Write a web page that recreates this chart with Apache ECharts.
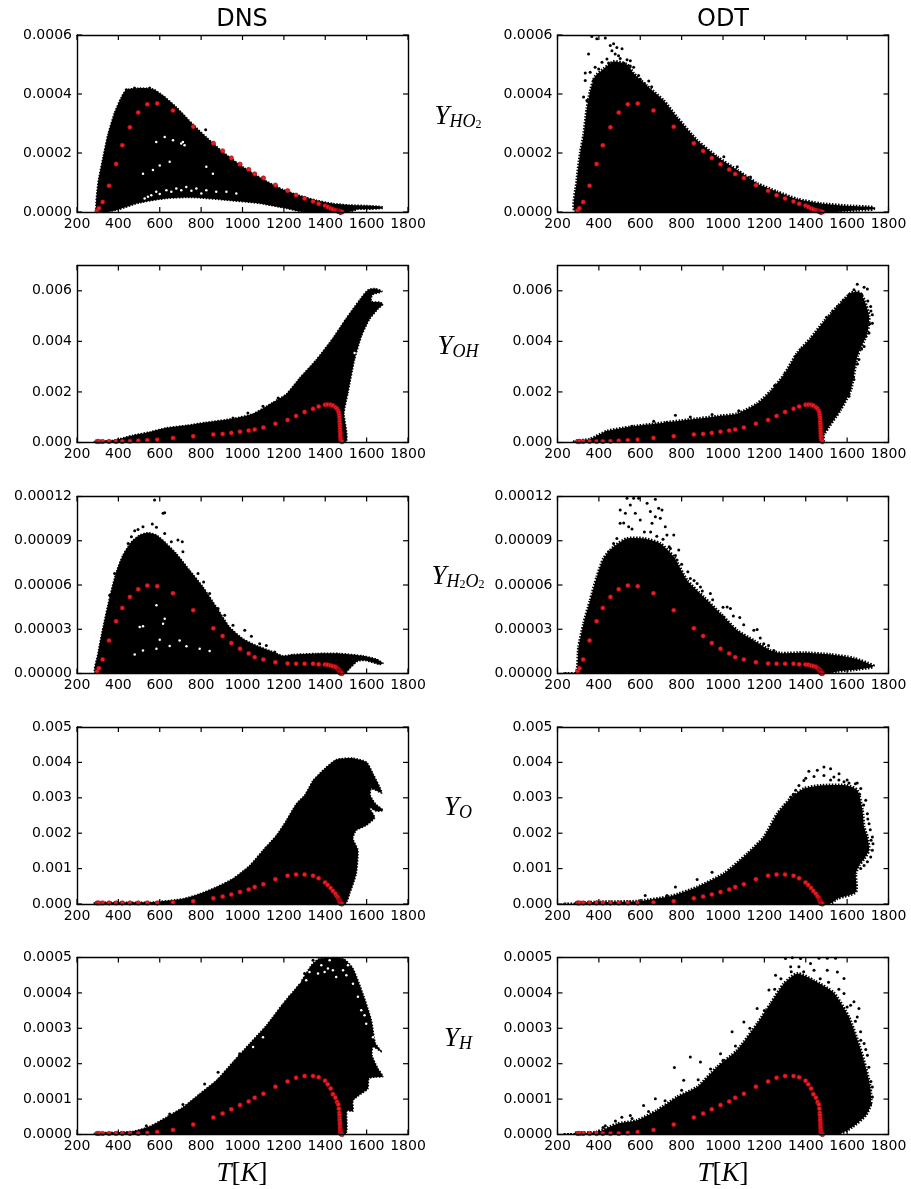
<!DOCTYPE html>
<html>
<head>
<meta charset="utf-8">
<style>
	html, body { margin: 0; padding: 0; background: #fff; }
	#chart { width: 911px; height: 1189px; }
</style>
<script src="https://cdn.jsdelivr.net/npm/echarts@6/dist/echarts.min.js"></script>
</head>
<body>
<div id="chart"></div>
<script>
// x ticks, same on every panel
var tempTicks = [200, 400, 600, 800, 1000, 1200, 1400, 1600, 1800];

// y ticks
var ticksHO2 = [0, 0.0002, 0.0004, 0.0006];
var ticksOH = [0, 0.002, 0.004, 0.006];
var ticksH2O2 = [0, 0.00003, 0.00006, 0.00009, 0.00012];
var ticksO = [0, 0.001, 0.002, 0.003, 0.004, 0.005];
var ticksH = [0, 0.0001, 0.0002, 0.0003, 0.0004, 0.0005];

// red laminar flame points
var redT = [297, 306, 324, 355, 389, 419, 456, 496, 540, 588, 664, 762, 859, 904, 946, 988, 1030, 1059, 1101, 1159, 1218, 1259, 1300, 1341, 1368, 1399, 1412, 1426, 1437, 1449, 1457, 1463, 1466, 1468, 1469, 1470, 1470, 1471, 1471, 1472, 1472, 1473, 1473, 1474, 1476, 1481];
var redHO2 = [0.045, 0.124, 0.338, 0.89, 1.63, 2.26, 2.87, 3.37, 3.65, 3.68, 3.44, 2.89, 2.33, 2.07, 1.83, 1.62, 1.44, 1.29, 1.15, 0.91, 0.72, 0.57, 0.46, 0.36, 0.28, 0.21, 0.17, 0.12, 0.09, 0.06, 0.04, 0.03, 0.025, 0.02, 0.018, 0.016, 0.014, 0.012, 0.01, 0.009, 0.008, 0.006, 0.005, 0.004, 0.002, 0];
var redOH = [0.04, 0.04, 0.04, 0.04, 0.04, 0.04, 0.05, 0.07, 0.09, 0.11, 0.18, 0.25, 0.32, 0.34, 0.38, 0.43, 0.47, 0.51, 0.59, 0.74, 0.89, 1.05, 1.21, 1.33, 1.42, 1.49, 1.5, 1.49, 1.46, 1.39, 1.33, 1.25, 1.17, 1.08, 0.99, 0.89, 0.8, 0.71, 0.62, 0.53, 0.43, 0.34, 0.25, 0.16, 0.09, 0.03];
var redH2O2 = [0.14, 0.36, 0.95, 2.24, 3.54, 4.44, 5.19, 5.71, 5.96, 5.92, 5.44, 4.29, 3.06, 2.54, 2.06, 1.68, 1.36, 1.11, 0.95, 0.77, 0.68, 0.66, 0.66, 0.66, 0.63, 0.61, 0.59, 0.54, 0.5, 0.45, 0.36, 0.29, 0.25, 0.22, 0.2, 0.18, 0.16, 0.14, 0.12, 0.1, 0.08, 0.06, 0.05, 0.04, 0.02, 0];
var redO = [0.03, 0.03, 0.03, 0.03, 0.03, 0.03, 0.03, 0.03, 0.03, 0.03, 0.04, 0.08, 0.16, 0.21, 0.27, 0.34, 0.41, 0.48, 0.56, 0.7, 0.8, 0.83, 0.83, 0.8, 0.73, 0.61, 0.54, 0.45, 0.37, 0.29, 0.22, 0.17, 0.13, 0.1, 0.09, 0.08, 0.07, 0.06, 0.05, 0.05, 0.04, 0.03, 0.03, 0.02, 0.01, 0];
var redH = [0.03, 0.03, 0.03, 0.03, 0.03, 0.03, 0.03, 0.03, 0.04, 0.07, 0.13, 0.28, 0.48, 0.59, 0.71, 0.83, 0.93, 1.04, 1.15, 1.35, 1.5, 1.6, 1.65, 1.65, 1.62, 1.52, 1.42, 1.3, 1.14, 1.04, 0.92, 0.85, 0.73, 0.61, 0.54, 0.46, 0.4, 0.33, 0.27, 0.21, 0.16, 0.11, 0.07, 0.04, 0.02, 0];

// solid black part of the clouds, outline as [T, Y in the panel's unit]
var dnsHO2 = [[293, 0], [301, 0.97], [326, 1.87], [350, 2.65], [382, 3.38], [414, 3.89], [438, 4.14], [503, 4.2], [567, 4.17], [616, 3.95], [680, 3.56], [761, 2.97], [825, 2.54], [906, 2.03], [1002, 1.53], [1099, 1.11], [1196, 0.76], [1277, 0.56], [1357, 0.4], [1437, 0.29], [1517, 0.24], [1599, 0.22], [1676, 0.18], [1678, 0.12], [1599, 0.09], [1558, 0.09], [1517, 0], [1292, 0], [1212, 0.12], [1083, 0.29], [922, 0.4], [761, 0.49], [632, 0.46], [503, 0.31], [400, 0.08], [342, 0]];
var odtHO2 = [[290, 0], [294, 1.08], [310, 2.0], [326, 2.6], [342, 3.5], [358, 4.1], [382, 4.6], [423, 4.85], [471, 5.1], [536, 5.0], [568, 4.7], [632, 4.28], [713, 3.78], [778, 3.21], [875, 2.43], [972, 1.87], [1069, 1.42], [1165, 0.97], [1262, 0.69], [1359, 0.44], [1472, 0.29], [1601, 0.21], [1727, 0.16], [1727, 0.09], [1650, 0.06], [1601, 0.03], [1553, 0]];
var dnsOH = [[285, 0], [285, 0.05], [374, 0.09], [471, 0.29], [551, 0.42], [632, 0.58], [729, 0.68], [825, 0.8], [954, 0.95], [1051, 1.14], [1147, 1.59], [1212, 1.92], [1276, 2.55], [1357, 3.28], [1437, 4.13], [1502, 4.92], [1566, 5.64], [1607, 6.04], [1639, 6.09], [1674, 5.99], [1671, 5.95], [1628, 5.84], [1623, 5.58], [1664, 5.55], [1679, 5.47], [1655, 5.28], [1615, 4.88], [1575, 4.2], [1542, 3.28], [1510, 1.96], [1491, 1.17], [1495, 0]];
var odtOH = [[281, 0], [281, 0.04], [358, 0.14], [439, 0.45], [552, 0.62], [681, 0.75], [843, 0.91], [972, 1.04], [1069, 1.14], [1165, 1.54], [1230, 2.03], [1295, 2.68], [1359, 3.54], [1424, 4.13], [1488, 4.79], [1553, 5.38], [1618, 5.91], [1658, 5.95], [1685, 5.6], [1706, 5.0], [1698, 4.34], [1650, 3.42], [1618, 2.08], [1569, 1.3], [1488, 0.32], [1480, 0]];
var dnsH2O2 = [[290, 0], [301, 1.34], [326, 3.15], [358, 5.19], [390, 6.89], [422, 8.03], [463, 8.93], [503, 9.39], [543, 9.55], [584, 9.39], [632, 8.82], [680, 8.14], [745, 7.0], [809, 5.87], [874, 4.51], [938, 3.15], [1002, 2.36], [1067, 1.9], [1131, 1.56], [1196, 1.2], [1244, 1.29], [1357, 1.36], [1470, 1.36], [1582, 1.2], [1647, 0.98], [1679, 0.7], [1663, 0.61], [1599, 0.86], [1558, 0.84], [1517, 0.32], [1494, 0]];
var odtH2O2 = [[235, 0], [290, 0], [302, 1.79], [326, 3.38], [358, 4.97], [390, 6.55], [423, 7.8], [471, 8.59], [536, 9.16], [616, 9.16], [697, 8.82], [762, 7.91], [826, 6.33], [907, 5.19], [988, 4.06], [1068, 2.93], [1149, 2.24], [1230, 1.56], [1278, 1.38], [1391, 1.41], [1520, 1.29], [1633, 1.04], [1727, 0.54], [1722, 0.43], [1633, 0.25], [1553, 0.14], [1504, 0]];
var dnsO = [[285, 0], [285, 0.05], [551, 0.05], [712, 0.15], [793, 0.29], [874, 0.48], [954, 0.72], [1035, 1.09], [1099, 1.52], [1164, 1.94], [1212, 2.36], [1260, 2.83], [1300, 3.07], [1341, 3.49], [1397, 3.82], [1454, 4.08], [1534, 4.12], [1599, 4.01], [1631, 3.68], [1674, 3.14], [1623, 3.26], [1618, 3.07], [1643, 2.83], [1679, 2.65], [1647, 2.62], [1611, 2.74], [1639, 2.44], [1598, 2.22], [1550, 2.08], [1534, 1.85], [1558, 1.52], [1550, 0.86], [1518, 0.29], [1494, 0]];
var odtO = [[235, 0], [281, 0], [281, 0.03], [423, 0.06], [584, 0.08], [746, 0.22], [875, 0.48], [1004, 0.86], [1117, 1.42], [1197, 1.89], [1262, 2.55], [1326, 2.98], [1391, 3.26], [1472, 3.35], [1601, 3.35], [1650, 3.21], [1674, 2.65], [1682, 2.18], [1698, 1.89], [1706, 1.52], [1682, 1.28], [1658, 1.09], [1642, 0.86], [1642, 0.34], [1553, 0.15], [1513, 0]];
var dnsH = [[285, 0], [285, 0.04], [471, 0.09], [551, 0.23], [632, 0.49], [712, 0.77], [793, 1.15], [874, 1.53], [954, 2.05], [1035, 2.57], [1115, 3.08], [1196, 3.7], [1276, 4.26], [1333, 4.78], [1373, 4.97], [1486, 4.97], [1534, 4.69], [1582, 3.98], [1623, 3.23], [1643, 2.57], [1674, 2.33], [1631, 2.47], [1626, 2.24], [1655, 1.86], [1679, 1.64], [1639, 1.62], [1611, 1.58], [1606, 1.29], [1574, 1.15], [1534, 0.96], [1534, 0.66], [1505, 0.66], [1494, 0]];
var odtH = [[235, 0], [281, 0], [281, 0.04], [390, 0.07], [487, 0.3], [584, 0.4], [681, 0.68], [778, 1.06], [875, 1.34], [972, 1.91], [1068, 2.38], [1165, 3.13], [1230, 3.7], [1294, 4.26], [1359, 4.55], [1440, 4.35], [1536, 4.0], [1610, 3.3], [1660, 2.5], [1690, 1.9], [1712, 1.34], [1715, 0.87], [1690, 0.54], [1625, 0.21], [1553, 0]];

// loose points outside the solid part
var looseDnsHO2 = [[822, 2.79], [390, 3.38], [438, 4.14], [478, 4.2], [551, 4.2]];
var looseOdtHO2 = [[366, 5.95], [390, 5.87], [431, 5.9], [350, 5.36], [334, 4.71], [358, 4.74], [382, 4.91], [399, 4.85], [415, 5.08], [439, 5.19], [455, 5.64], [471, 5.7], [487, 5.58], [512, 5.53], [463, 5.47], [479, 5.36], [495, 5.3], [536, 5.16], [552, 5.13], [568, 4.91], [592, 4.63], [641, 4.44], [334, 4.46], [326, 3.9], [342, 3.78], [358, 3.56], [374, 4.46], [410, 4.68], [439, 4.91], [495, 5.02], [1004, 1.87], [1069, 1.53], [1133, 1.19], [447, 5.05], [503, 5.2], [520, 5.05], [552, 4.95], [600, 4.5], [620, 4.35], [655, 4.25], [400, 4.6], [380, 4.4]];
var looseDnsOH = [[1172, 1.76], [1099, 1.43], [1026, 1.17], [954, 0.97]];
var looseOdtOH = [[1649, 6.26], [1682, 6.14], [1698, 6.07], [1633, 6.04], [1617, 5.84], [1553, 5.38], [1722, 5.05], [1722, 4.72], [1706, 4.33], [1682, 3.8], [1657, 3.28], [1633, 2.49], [1609, 1.83], [1674, 5.25], [1714, 5.38], [1488, 4.66], [1351, 3.41], [1375, 3.67], [770, 1.08], [1076, 1.26], [947, 1.11], [842, 1.01], [665, 0.84], [560, 0.64], [729, 0.8], [439, 0.41], [1407, 3.87], [1456, 4.33], [1585, 5.64], [1500, 4.95], [1530, 5.2], [1580, 5.6], [1610, 5.85], [1640, 5.9], [1670, 5.85], [1700, 5.6], [1715, 5.2], [1710, 4.7], [1690, 4.2], [1670, 3.7], [1650, 3.1], [1630, 2.6], [1600, 2.0], [1580, 1.6], [1300, 2.75], [1250, 2.25], [1440, 4.2], [1400, 3.75]];
var looseDnsH2O2 = [[575, 11.77], [616, 10.86], [624, 10.9], [564, 10.14], [584, 9.91], [519, 9.95], [495, 9.77], [479, 9.68], [463, 9.27], [447, 8.82], [624, 9.5], [688, 9.05], [709, 8.93], [656, 8.93], [712, 8.25], [785, 6.78], [812, 6.21], [841, 5.42], [882, 4.4], [914, 3.95], [954, 3.27], [1011, 2.93], [1043, 2.52], [1083, 2.02], [1115, 1.9], [1156, 1.45], [382, 6.78], [358, 5.3]];
var looseOdtH2O2 = [[536, 11.88], [568, 11.88], [592, 11.88], [673, 11.81], [633, 11.54], [689, 11.2], [649, 10.98], [705, 11.09], [552, 11.43], [503, 11.09], [528, 10.86], [576, 10.86], [600, 10.41], [503, 10.18], [544, 9.95], [673, 10.63], [697, 10.52], [729, 9.39], [762, 9.39], [786, 8.37], [746, 8.48], [778, 7.69], [842, 6.44], [875, 6.1], [891, 5.87], [939, 5.42], [1020, 4.51], [1036, 4.4], [1081, 3.79], [1004, 3.83], [1149, 2.93], [1165, 2.99], [1197, 2.02], [1246, 1.56], [471, 8.82], [447, 8.25], [487, 9.16], [657, 10.18], [721, 9.95], [520, 10.2], [560, 9.8], [620, 9.6], [650, 9.6], [680, 9.3], [710, 9.1], [740, 8.6], [770, 8.0], [800, 7.4], [830, 6.9], [860, 6.3], [900, 5.6], [950, 5.0], [1000, 4.5], [1050, 3.9], [1100, 3.3], [1180, 2.4], [1220, 1.9]];
var looseDnsO = [];
var looseOdtO = [[1722, 1.89], [1725, 1.7], [1722, 1.52], [1714, 1.33], [1698, 1.19], [1682, 1.09], [1666, 1.0], [1706, 2.27], [1698, 2.55], [1690, 2.93], [1666, 3.26], [1649, 3.42], [1609, 3.42], [1561, 3.68], [1520, 3.82], [1488, 3.87], [1456, 3.78], [1415, 3.75], [1367, 3.35], [1351, 3.21], [1327, 3.02], [1391, 3.49], [1488, 3.63], [1536, 3.59], [1585, 3.45], [770, 0.48], [875, 0.69], [947, 0.9], [729, 0.24], [624, 0.24], [1400, 3.55], [1440, 3.6], [1520, 3.5], [1560, 3.5], [1600, 3.5], [1640, 3.4], [1340, 3.1], [1300, 2.8], [1660, 3.1], [1680, 2.8], [1700, 2.4], [1712, 2.1], [1716, 1.8]];
var looseDnsH = [[817, 1.43], [712, 0.85], [882, 1.76], [535, 0.25], [648, 0.58], [1163, 3.37], [1228, 3.89], [1300, 4.55], [1341, 4.92], [986, 2.28]];
var looseOdtH = [[1302, 4.97], [1335, 4.99], [1375, 4.97], [1423, 4.83], [1464, 4.98], [1504, 4.98], [1544, 4.98], [1553, 4.59], [1585, 4.41], [1633, 3.75], [1657, 3.56], [1649, 3.32], [1682, 2.57], [1698, 2.24], [1722, 1.34], [1722, 1.06], [1714, 0.87], [1698, 0.68], [1665, 0.49], [1254, 4.5], [1222, 4.08], [1165, 3.56], [1101, 3.18], [1044, 2.9], [988, 2.28], [891, 2.05], [842, 2.19], [765, 1.89], [810, 1.53], [673, 1.01], [616, 0.82], [552, 0.54], [511, 0.49], [431, 0.25], [1682, 1.72], [1666, 2.66], [1617, 3.65], [1585, 3.98], [1504, 4.64], [1327, 4.74], [1367, 4.74], [1407, 4.41], [1440, 4.64], [1250, 4.1], [1280, 4.4], [1330, 4.6], [1390, 4.6], [1470, 4.4], [1510, 4.3], [1560, 4.1], [1600, 3.6], [1640, 3.2], [1665, 2.9], [1690, 2.4], [1705, 1.9], [1715, 1.5], [1200, 3.5], [1130, 3.0], [1060, 2.5], [1000, 2.1], [940, 1.85], [880, 1.55], [800, 1.25], [720, 0.95], [640, 0.65], [560, 0.45], [480, 0.38], [420, 0.2]];

// white gaps inside the solid part
var gapsDnsHO2 = [[624, 2.54], [704, 2.32], [720, 2.26], [712, 2.37], [664, 2.43], [583, 2.37], [600, 1.58], [648, 1.7], [567, 1.42], [825, 1.53], [857, 1.3], [519, 1.3], [543, 0.52], [583, 0.69], [632, 0.74], [680, 0.8], [728, 0.85], [777, 0.8], [825, 0.74], [873, 0.69], [922, 0.69], [970, 0.63], [600, 0.61], [656, 0.69], [704, 0.74], [753, 0.72], [801, 0.63], [559, 0.57], [527, 0.46]];
var gapsDnsOH = [[1542, 3.54], [1553, 3.28], [1538, 2.75]];
var gapsDnsH2O2 = [[479, 1.29], [519, 1.56], [584, 1.68], [648, 1.86], [729, 1.84], [793, 1.68], [841, 1.52], [600, 2.29], [696, 2.24], [503, 3.15], [616, 3.38], [519, 3.2], [624, 3.72], [584, 4.63]];
var gapsDnsH = [[1284, 4.5], [1324, 4.59], [1365, 4.55], [1397, 4.59], [1437, 4.64], [1486, 4.64], [1502, 4.5], [1453, 4.45], [1413, 4.69], [1381, 4.78], [1510, 4.78], [1421, 4.92], [1574, 3.51], [1590, 3.37], [1598, 3.13], [1534, 4.26], [1558, 3.89], [1631, 2.75], [1276, 4.31], [1308, 4.36], [1099, 2.75], [1051, 2.47]];

var panels = [
	{ top: 35, max: 0.0006, ticks: ticksHO2, digits: 4, unit: 1e-4, red: redHO2, dns: [dnsHO2, looseDnsHO2, gapsDnsHO2], odt: [odtHO2, looseOdtHO2, []] },
	{ top: 265.5, max: 0.007, ticks: ticksOH, digits: 3, unit: 1e-3, red: redOH, dns: [dnsOH, looseDnsOH, gapsDnsOH], odt: [odtOH, looseOdtOH, []] },
	{ top: 496.5, max: 0.00012, ticks: ticksH2O2, digits: 5, unit: 1e-5, red: redH2O2, dns: [dnsH2O2, looseDnsH2O2, gapsDnsH2O2], odt: [odtH2O2, looseOdtH2O2, []] },
	{ top: 727, max: 0.005, ticks: ticksO, digits: 3, unit: 1e-3, red: redO, dns: [dnsO, looseDnsO, []], odt: [odtO, looseOdtO, []] },
	{ top: 957.5, max: 0.0005, ticks: ticksH, digits: 4, unit: 1e-4, red: redH, dns: [dnsH, looseDnsH, gapsDnsH], odt: [odtH, looseOdtH, []] }
];
var columns = [
	{ left: 77, key: "dns", edge: 1.5 },
	{ left: 557.5, key: "odt", edge: 3 }
];

function scaled(list, unit) {
	return list.map(function (p) {
		return [p[0], p[1] * unit];
	});
}

function cloudSeries(points, index, edge) {
	return {
		type: "custom",
		xAxisIndex: index,
		yAxisIndex: index,
		silent: true,
		clip: true,
		z: 2,
		data: points,
		encode: { x: 0, y: 1 },
		renderItem: function (params, api) {
			// whole outline is one polygon, draw it once
			if (params.dataIndex !== 0) {
				return null;
			}
			return {
				type: "polygon",
				shape: {
					smooth: 0.2,
					points: points.map(function (p) {
						return api.coord(p);
					})
				},
				// broken stroke gives the outline a grainy look
				style: { fill: "#000", stroke: "#000", lineWidth: edge, lineDash: [1.5, 1.5] }
			};
		}
	};
}

function dotSeries(data, index, color, size, z, edgeColor) {
	return {
		type: "scatter",
		xAxisIndex: index,
		yAxisIndex: index,
		silent: true,
		symbolSize: size,
		itemStyle: { color: color, opacity: 1, borderColor: edgeColor || color, borderWidth: edgeColor ? 0.5 : 0 },
		z: z,
		data: data
	};
}

// one side's inward tick marks, drawn as thin rectangles sitting on the axis
function tickSide(data, index, size, offset) {
	return {
		type: "scatter",
		xAxisIndex: index,
		yAxisIndex: index,
		silent: true,
		clip: false,
		symbol: "rect",
		symbolSize: size,
		symbolOffset: offset,
		itemStyle: { color: "#000", opacity: 1 },
		z: 6,
		data: data
	};
}

var grids = [];
var xAxes = [];
var yAxes = [];
var series = [];

var tickFont = { fontFamily: "DejaVu Sans", fontSize: 14, color: "#000" };

panels.forEach(function (panel) {
	columns.forEach(function (col) {
		var index = grids.length;
		var cloud = panel[col.key];
		grids.push({
			left: col.left,
			top: panel.top,
			width: 331,
			height: 177
		});
		["bottom", "top"].forEach(function (pos) {
			xAxes.push({
				type: "value",
				gridIndex: index,
				position: pos,
				min: tempTicks[0],
				max: tempTicks[tempTicks.length - 1],
				interval: tempTicks[1] - tempTicks[0],
				z: 10,
				splitLine: { show: false },
				axisLine: { show: true, onZero: false, lineStyle: { color: "#000", width: 1.4 } },
				axisTick: { show: false },
				axisLabel: {
					show: pos === "bottom",
					margin: 5,
					showMinLabel: true,
					showMaxLabel: true,
					hideOverlap: false,
					fontFamily: tickFont.fontFamily,
					fontSize: tickFont.fontSize,
					color: tickFont.color,
					formatter: function (v) {
						return String(v);
					}
				}
			});
		});
		["left", "right"].forEach(function (pos) {
			yAxes.push({
				type: "value",
				gridIndex: index,
				position: pos,
				min: 0,
				max: panel.max,
				interval: panel.ticks[1],
				z: 10,
				splitLine: { show: false },
				axisLine: { show: true, onZero: false, lineStyle: { color: "#000", width: 1.4 } },
				axisTick: { show: false },
				axisLabel: {
					show: pos === "left",
					margin: 5,
					showMinLabel: true,
					showMaxLabel: true,
					hideOverlap: false,
					fontFamily: tickFont.fontFamily,
					fontSize: tickFont.fontSize,
					color: tickFont.color,
					formatter: function (v) {
						// the OH axis ends above its last tick
						if (v > panel.ticks[panel.ticks.length - 1] * 1.001) {
							return "";
						}
						return v.toFixed(panel.digits);
					}
				}
			});
		});
		// each grid has two x and two y axes, the data sits on the first pair
		var axisIndex = index * 2;
		series.push(cloudSeries(scaled(cloud[0], panel.unit), axisIndex, col.edge));
		if (cloud[1].length) {
			series.push(dotSeries(scaled(cloud[1], panel.unit), axisIndex, "#000", 3, 3));
		}
		if (cloud[2].length) {
			series.push(dotSeries(scaled(cloud[2], panel.unit), axisIndex, "#fff", 2.5, 4));
		}
		var red = redT.map(function (t, i) {
			return [t, panel.red[i] * panel.unit];
		});
		series.push(dotSeries(red, axisIndex, "#ee1c25", 4.5, 5, "#7a0000"));

		var xLow = tempTicks.map(function (t) { return [t, 0]; });
		var xHigh = tempTicks.map(function (t) { return [t, panel.max]; });
		var yLeft = panel.ticks.map(function (v) { return [tempTicks[0], v]; });
		var yRight = panel.ticks.map(function (v) { return [tempTicks[tempTicks.length - 1], v]; });
		series.push(tickSide(xLow, axisIndex, [1.2, 5], [0, -2.5]));
		series.push(tickSide(xHigh, axisIndex, [1.2, 5], [0, 2.5]));
		series.push(tickSide(yLeft, axisIndex, [5, 1.2], [2.5, 0]));
		series.push(tickSide(yRight, axisIndex, [5, 1.2], [-2.5, 0]));
	});
});

var math = {
	y: { fontFamily: "Liberation Serif", fontStyle: "italic", fontWeight: "normal", fontSize: 27, color: "#000" },
	s: { fontFamily: "Liberation Serif", fontStyle: "italic", fontWeight: "normal", fontSize: 18, color: "#000", verticalAlign: "bottom", padding: [10, 0, 0, 0] },
	t: { fontFamily: "Liberation Serif", fontWeight: "normal", fontSize: 12, color: "#000", verticalAlign: "bottom", padding: [16, 0, 0, 0] },
	u: { fontFamily: "Liberation Serif", fontWeight: "normal", fontSize: 27, color: "#000" }
};

function mathLabel(text, x, y) {
	return { text: text, left: x, top: y, textAlign: "center", padding: 0, textStyle: { rich: math } };
}

var titles = [
	{ text: "DNS", left: 242, top: 8, textAlign: "center", padding: 0, textStyle: { fontFamily: "DejaVu Sans", fontWeight: "normal", fontSize: 24, color: "#000" } },
	{ text: "ODT", left: 723, top: 8, textAlign: "center", padding: 0, textStyle: { fontFamily: "DejaVu Sans", fontWeight: "normal", fontSize: 24, color: "#000" } },
	mathLabel("{y|Y}{s|HO}{t|2}", 458, 103),
	mathLabel("{y|Y}{s|OH}", 458, 333),
	mathLabel("{y|Y}{s|H}{t|2}{s|O}{t|2}", 458, 563),
	mathLabel("{y|Y}{s|O}", 458, 794),
	mathLabel("{y|Y}{s|H}", 458, 1025),
	mathLabel("{y|T}{u|[}{y|K}{u|]}", 242, 1160),
	mathLabel("{y|T}{u|[}{y|K}{u|]}", 723, 1160)
];

var myChart = echarts.init(document.getElementById("chart"), null, { renderer: "canvas" });
myChart.setOption({
	animation: false,
	backgroundColor: "#fff",
	title: titles,
	grid: grids,
	xAxis: xAxes,
	yAxis: yAxes,
	series: series
});
</script>
</body>
</html>
